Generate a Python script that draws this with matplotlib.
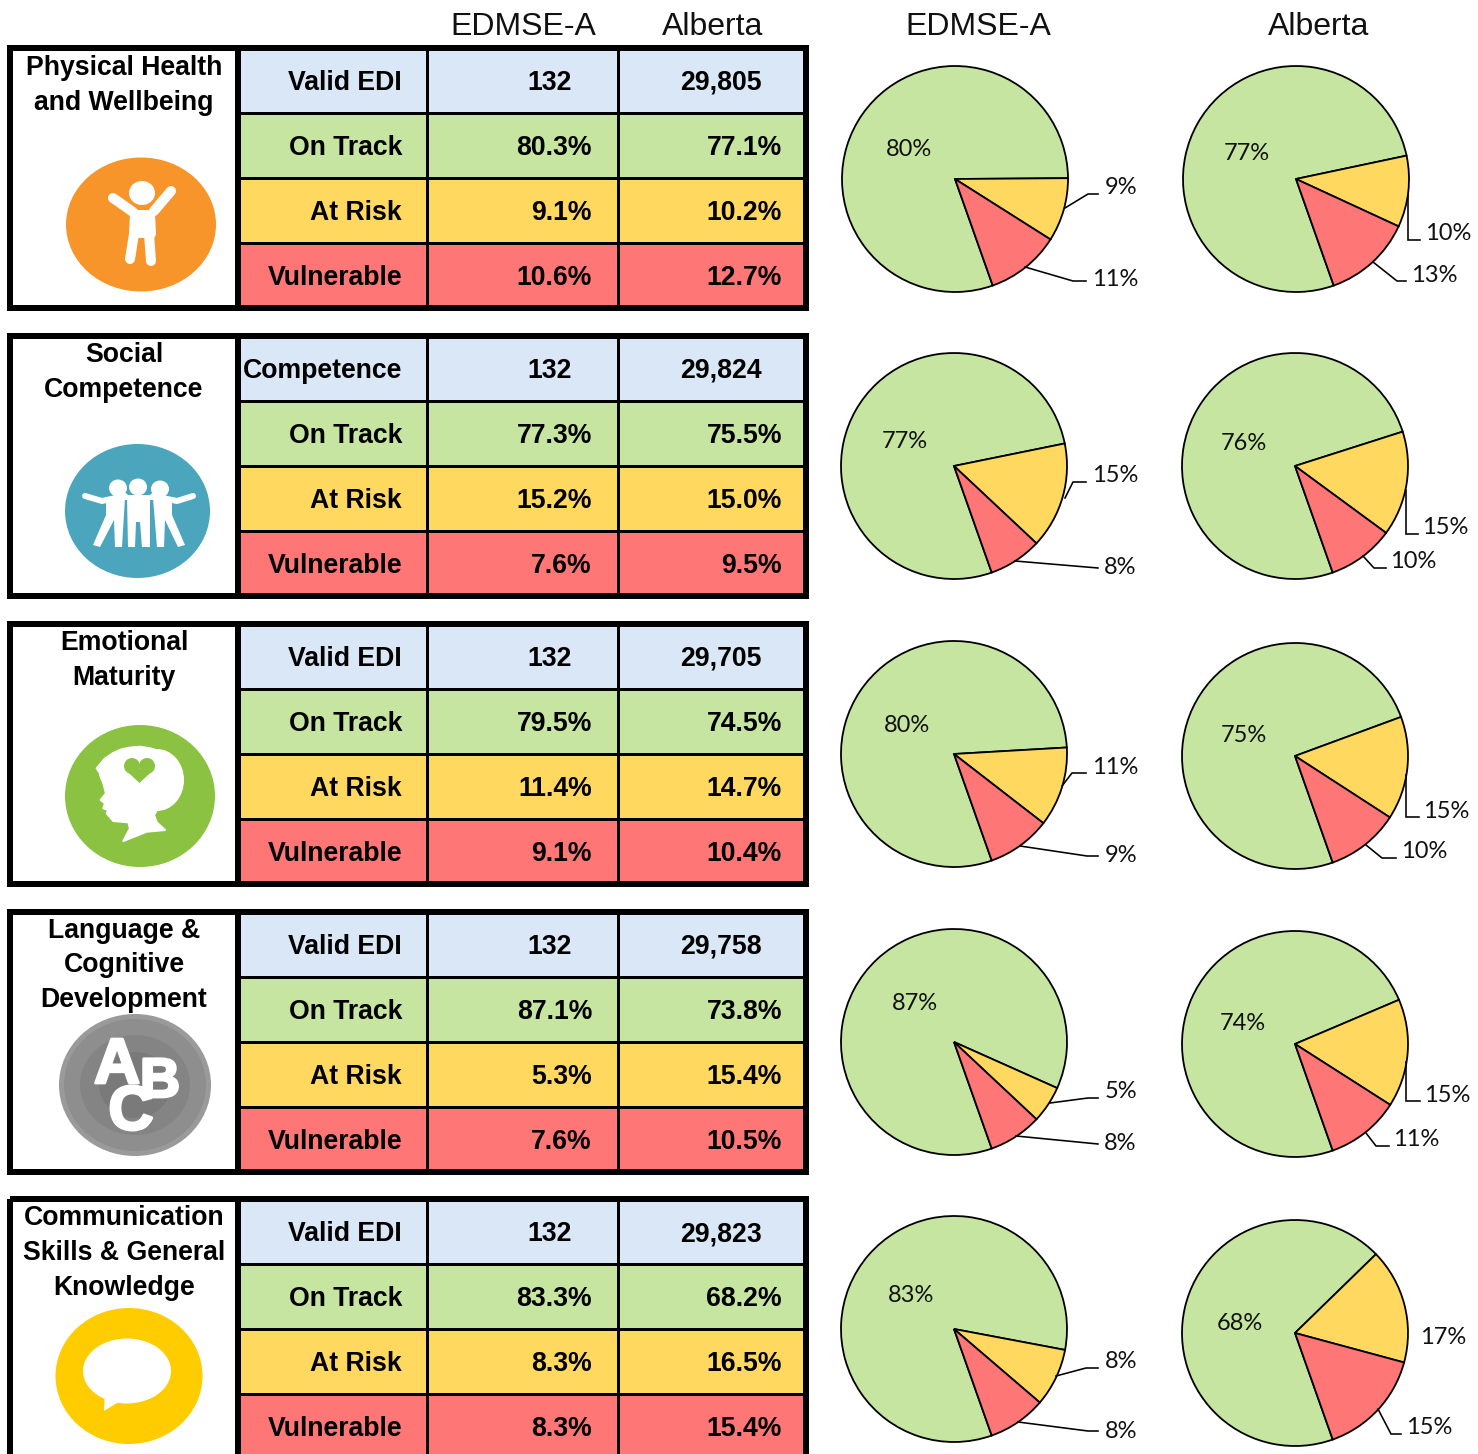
import matplotlib
matplotlib.use("Agg")
import matplotlib.pyplot as plt
import matplotlib.patheffects as pe
from matplotlib.patches import Rectangle, Ellipse, Polygon

# ---------- data ----------
domains = [["Physical Health", "and Wellbeing"],
           ["Social", "Competence"],
           ["Emotional", "Maturity"],
           ["Language &", "Cognitive", "Development"],
           ["Communication", "Skills & General", "Knowledge"]]
first_row_labels = ["Valid EDI", "Competence", "Valid EDI", "Valid EDI", "Valid EDI"]
row_labels = ["On Track", "At Risk", "Vulnerable"]
valid_edmse = ["132", "132", "132", "132", "132"]
valid_alberta = ["29,805", "29,824", "29,705", "29,758", "29,823"]
edmse_on_track = [80.3, 77.3, 79.5, 87.1, 83.3]
edmse_at_risk = [9.1, 15.2, 11.4, 5.3, 8.3]
edmse_vulnerable = [10.6, 7.6, 9.1, 7.6, 8.3]
alberta_on_track = [77.1, 75.5, 74.5, 73.8, 68.2]
alberta_at_risk = [10.2, 15.0, 14.7, 15.4, 16.5]
alberta_vulnerable = [12.7, 9.5, 10.4, 10.5, 15.4]
region_names = ["EDMSE-A", "Alberta"]

# ---------- style and layout (pixels) ----------
W, H = 1478, 1454
BLUE, GREEN, YELLOW, RED = "#DAE7F7", "#C6E5A0", "#FFD860", "#FF7676"
SANS = "Liberation Sans"
PIEFONT = "Lato"
block_tops = [45, 333, 621, 909, 1196]
title_ys = [[66, 101], [353, 388], [641, 676], [929, 963, 998], [1216, 1251, 1286]]
pie_centres = [[(955, 179), (1296, 179)], [(954, 466), (1295, 466)],
               [(954, 754), (1295, 756)], [(954, 1042), (1295, 1044)],
               [(954, 1329), (1295, 1333)]]
PIE_R = 113
START_ANGLE = -70.5
inner_pos = [[(909, 148), (1247, 153)], [(905, 440), (1244, 443)], [(907, 725), (1244, 734)],
             [(915, 1002), (1243, 1023)], [(911, 1295), (1240, 1322)]]
leaders = [
    [[((1121, 187), [(1065, 208), (1088, 194), (1098, 194)]), ((1115, 279), [(1025, 267), (1073, 281), (1086, 281)])],
     [((1448, 233), [(1408, 195), (1408, 240), (1420, 240)]), ((1434, 274), [(1373, 262), (1397, 281), (1406, 281)])]],
    [[((1115, 475), [(1065, 498), (1073, 482), (1086, 482)]), ((1120, 567), [(1015, 561), (1098, 568)])],
     [((1445, 527), [(1406, 490), (1406, 534), (1418, 534)]), ((1413, 561), [(1363, 556), (1374, 568), (1386, 568)])]],
    [[((1115, 766), [(1062, 786), (1072, 773), (1086, 773)]), ((1121, 854), [(1020, 846), (1087, 856), (1098, 856)])],
     [((1446, 810), [(1406, 775), (1406, 817), (1419, 817)]), ((1424, 851), [(1366, 845), (1382, 858), (1396, 858)])]],
    [[((1121, 1091), [(1050, 1103), (1088, 1098), (1098, 1098)]), ((1120, 1142), [(1016, 1136), (1098, 1144)])],
     [((1447, 1094), [(1406, 1062), (1406, 1101), (1420, 1101)]), ((1416, 1139), [(1366, 1133), (1376, 1146), (1389, 1146)])]],
    [[((1121, 1361), [(1056, 1376), (1086, 1368), (1098, 1368)]), ((1121, 1430), [(1018, 1422), (1088, 1431), (1098, 1431)])],
     [((1443, 1337), []), ((1429, 1427), [(1378, 1409), (1391, 1434), (1401, 1434)])]],
]

fig = plt.figure(figsize=(W / 100, H / 100), dpi=100, facecolor="white")
ov = fig.add_axes([0, 0, 1, 1], zorder=10)
ov.set_xlim(0, W)
ov.set_ylim(H, 0)
ov.axis("off")


def lw(px):
    return px * 0.72


def pct(v):
    return f"{v:.1f}%"


def rounded(v):
    return f"{int(v + 0.5)}%"


def white_line(points, width):
    xs, ys = zip(*points)
    ov.plot(xs, ys, color="white", lw=lw(width), solid_capstyle="round", solid_joinstyle="round", zorder=6)


def icon_physical(top):
    dy = top - 45
    ov.add_patch(Ellipse((141, 224.5 + dy), 150, 134, fc="#F7952B", ec="none", zorder=5))
    ov.add_patch(Ellipse((142, 193 + dy), 26, 24, fc="white", ec="none", zorder=6))
    white_line([(113, 198 + dy), (133, 212 + dy)], 10)
    white_line([(171, 191 + dy), (154, 211 + dy)], 10)
    white_line([(134, 214 + dy), (151, 214 + dy), (152, 234 + dy), (133, 234 + dy), (134, 214 + dy)], 8)
    white_line([(134, 234 + dy), (130, 259 + dy)], 10)
    white_line([(149, 234 + dy), (151, 261 + dy)], 10)
    ov.add_patch(Rectangle((132, 212 + dy), 22, 24, fc="white", ec="none", zorder=6))


def icon_social(top):
    dy = top - 333
    ov.add_patch(Ellipse((137.5, 511 + dy), 145, 134, fc="#4BA5BC", ec="none", zorder=5))
    for hx, hy in [(118, 488), (138, 487), (160, 489)]:
        ov.add_patch(Ellipse((hx, hy + dy), 18, 17, fc="white", ec="none", zorder=6))
    ov.add_patch(Polygon([(127, 497 + dy), (150, 497 + dy), (150, 547 + dy), (142, 547 + dy), (140, 522 + dy),
                          (136, 522 + dy), (135, 547 + dy), (128, 547 + dy)], fc="white", ec="none", zorder=6))
    ov.add_patch(Polygon([(106, 498 + dy), (125, 498 + dy), (122, 547 + dy), (115, 547 + dy), (114, 520 + dy),
                          (100, 547 + dy), (93, 545 + dy), (106, 515 + dy)], fc="white", ec="none", zorder=6))
    ov.add_patch(Polygon([(153, 498 + dy), (172, 498 + dy), (172, 515 + dy), (185, 545 + dy), (178, 547 + dy),
                          (165, 520 + dy), (164, 547 + dy), (157, 547 + dy)], fc="white", ec="none", zorder=6))
    white_line([(85, 496 + dy), (102, 501 + dy), (125, 496 + dy)], 6)
    white_line([(193, 496 + dy), (177, 501 + dy), (153, 496 + dy)], 6)
    white_line([(118, 497 + dy), (160, 497 + dy)], 5)


def icon_emotional(top):
    dy = top - 621
    ov.add_patch(Ellipse((140, 796 + dy), 150, 142, fc="#8BC241", ec="none", zorder=5))
    ov.add_patch(Ellipse((138, 772 + dy), 78, 52, fc="white", ec="none", zorder=6))
    ov.add_patch(Ellipse((157, 780 + dy), 54, 62, fc="white", ec="none", zorder=6))
    zoom_pts = [(140, 160), (165, 130), (210, 105), (270, 95), (330, 110), (370, 145), (385, 190), (370, 235),
                (330, 270), (312, 300), (320, 322), (345, 345), (290, 350), (220, 378), (240, 340), (235, 322),
                (190, 318), (170, 295), (175, 285), (160, 280), (165, 265), (152, 255), (168, 235), (160, 205),
                (150, 175)]
    ov.add_patch(Polygon([(50 + x / 3, 715 + y / 3 + dy) for x, y in zoom_pts], fc="white", ec="white", lw=1.5,
                         joinstyle="round", zorder=6))
    ov.add_patch(Ellipse((132, 766 + dy), 16, 16, fc="#8BC241", ec="none", zorder=7))
    ov.add_patch(Ellipse((147, 766 + dy), 16, 16, fc="#8BC241", ec="none", zorder=7))
    ov.add_patch(Polygon([(124.5, 769 + dy), (154.5, 769 + dy), (139.5, 783 + dy)], fc="#8BC241", ec="none", zorder=7))


def icon_language(top):
    dy = top - 909
    ov.add_patch(Ellipse((135, 1085 + dy), 152, 142, fc="#9A9A9A", ec="none", zorder=5))
    ov.add_patch(Ellipse((135, 1085 + dy), 142, 132, fc="#8E8E8E", ec="none", zorder=5))
    ov.add_patch(Ellipse((135, 1085 + dy), 110, 100, fc="#848484", ec="none", zorder=5))
    ov.add_patch(Ellipse((135, 1085 + dy), 72, 66, fc="#7A7A7A", ec="none", zorder=5))
    for s, x, y, size in [("A", 117, 1066, 46), ("B", 160, 1083, 40), ("C", 131, 1113, 45)]:
        ov.text(x, y + dy, s, color="white", family=SANS, weight="bold", fontsize=size,
                ha="center", va="center", zorder=6,
                path_effects=[pe.withStroke(linewidth=2, foreground="white")])


def icon_communication(top):
    dy = top - 1196
    ov.add_patch(Ellipse((129, 1376 + dy), 147, 136, fc="#FFCC00", ec="none", zorder=5))
    ov.add_patch(Ellipse((127, 1371 + dy), 88, 65, fc="white", ec="none", zorder=6))
    ov.add_patch(Polygon([(105, 1390 + dy), (104, 1411 + dy), (125, 1398 + dy)], fc="white", ec="none", zorder=6))


icons = [icon_physical, icon_social, icon_emotional, icon_language, icon_communication]

# table headers
for x, name in zip((523, 713, 978, 1319), region_names * 2):
    ov.text(x, 27, name, family=SANS, fontsize=23, ha="center", va="center", color="#111111")

col_edges = [238, 427, 617.5, 806]
row_offsets = [3, 67.5, 132.5, 197.5, 263]
row_colours = [BLUE, GREEN, YELLOW, RED]

for i, top in enumerate(block_tops):
    y_edges = [top + o for o in row_offsets]
    for r in range(4):
        ov.add_patch(Rectangle((col_edges[0], y_edges[r]), col_edges[3] - col_edges[0], y_edges[r + 1] - y_edges[r],
                               fc=row_colours[r], ec="none", zorder=1))
    for r in (1, 2, 3):
        ov.plot([col_edges[0], col_edges[3]], [y_edges[r]] * 2, color="black", lw=lw(3), solid_capstyle="butt", zorder=2)
    for c in (1, 2):
        ov.plot([col_edges[c]] * 2, [top + 3, top + 263], color="black", lw=lw(3), solid_capstyle="butt", zorder=2)
    ov.add_patch(Rectangle((10, top + 3), 796, 260, fc="none", ec="black", lw=lw(6), joinstyle="miter", zorder=3))
    ov.plot([238, 238], [top + 3, top + 263], color="black", lw=lw(6), solid_capstyle="butt", zorder=3)

    for line, y in zip(domains[i], title_ys[i]):
        ov.text(124, y + 2, line, family=SANS, weight="bold", fontsize=19.2, ha="center", va="center", zorder=7)
    icons[i](top)

    centres = [top + 38, top + 103, top + 168, top + 233]
    labels = [first_row_labels[i]] + row_labels
    ed_vals = [edmse_on_track[i], edmse_at_risk[i], edmse_vulnerable[i]]
    al_vals = [alberta_on_track[i], alberta_at_risk[i], alberta_vulnerable[i]]
    text_style = dict(family=SANS, weight="bold", fontsize=19.2, ha="right", va="center", zorder=4)
    for r, yc in enumerate(centres):
        ov.text(402, yc, labels[r], **text_style)
    ov.text(572, centres[0], valid_edmse[i], **text_style)
    ov.text(762, centres[0], valid_alberta[i], **text_style)
    for r in range(3):
        ov.text(592, centres[r + 1], pct(ed_vals[r]), **text_style)
        ov.text(782, centres[r + 1], pct(al_vals[r]), **text_style)

    for j, vals in enumerate((ed_vals, al_vals)):
        cx, cy = pie_centres[i][j]
        ax = fig.add_axes([(cx - PIE_R - 2) / W, 1 - (cy + PIE_R + 2) / H, (2 * PIE_R + 4) / W, (2 * PIE_R + 4) / H])
        ax.pie(vals, colors=[GREEN, YELLOW, RED], startangle=START_ANGLE, counterclock=False,
               radius=1, wedgeprops=dict(edgecolor="black", linewidth=lw(1.8)))
        lim = (PIE_R + 2) / PIE_R
        ax.set_xlim(-lim, lim)
        ax.set_ylim(-lim, lim)
        ax.set_aspect("equal")
        ix, iy = inner_pos[i][j]
        ov.text(ix, iy + 1, rounded(vals[0]), family=PIEFONT, fontsize=17, ha="center", va="center", color="#111111", zorder=8)
        for k in (0, 1):
            (tx, ty), line = leaders[i][j][k]
            ov.text(tx, ty + 1, rounded(vals[k + 1]), family=PIEFONT, fontsize=17, ha="center", va="center", color="#111111", zorder=8)
            if line:
                xs, ys = zip(*line)
                ov.plot(xs, ys, color="black", lw=lw(1.6), solid_joinstyle="miter", zorder=8)

fig.savefig("out.png", dpi=100, facecolor="white")
